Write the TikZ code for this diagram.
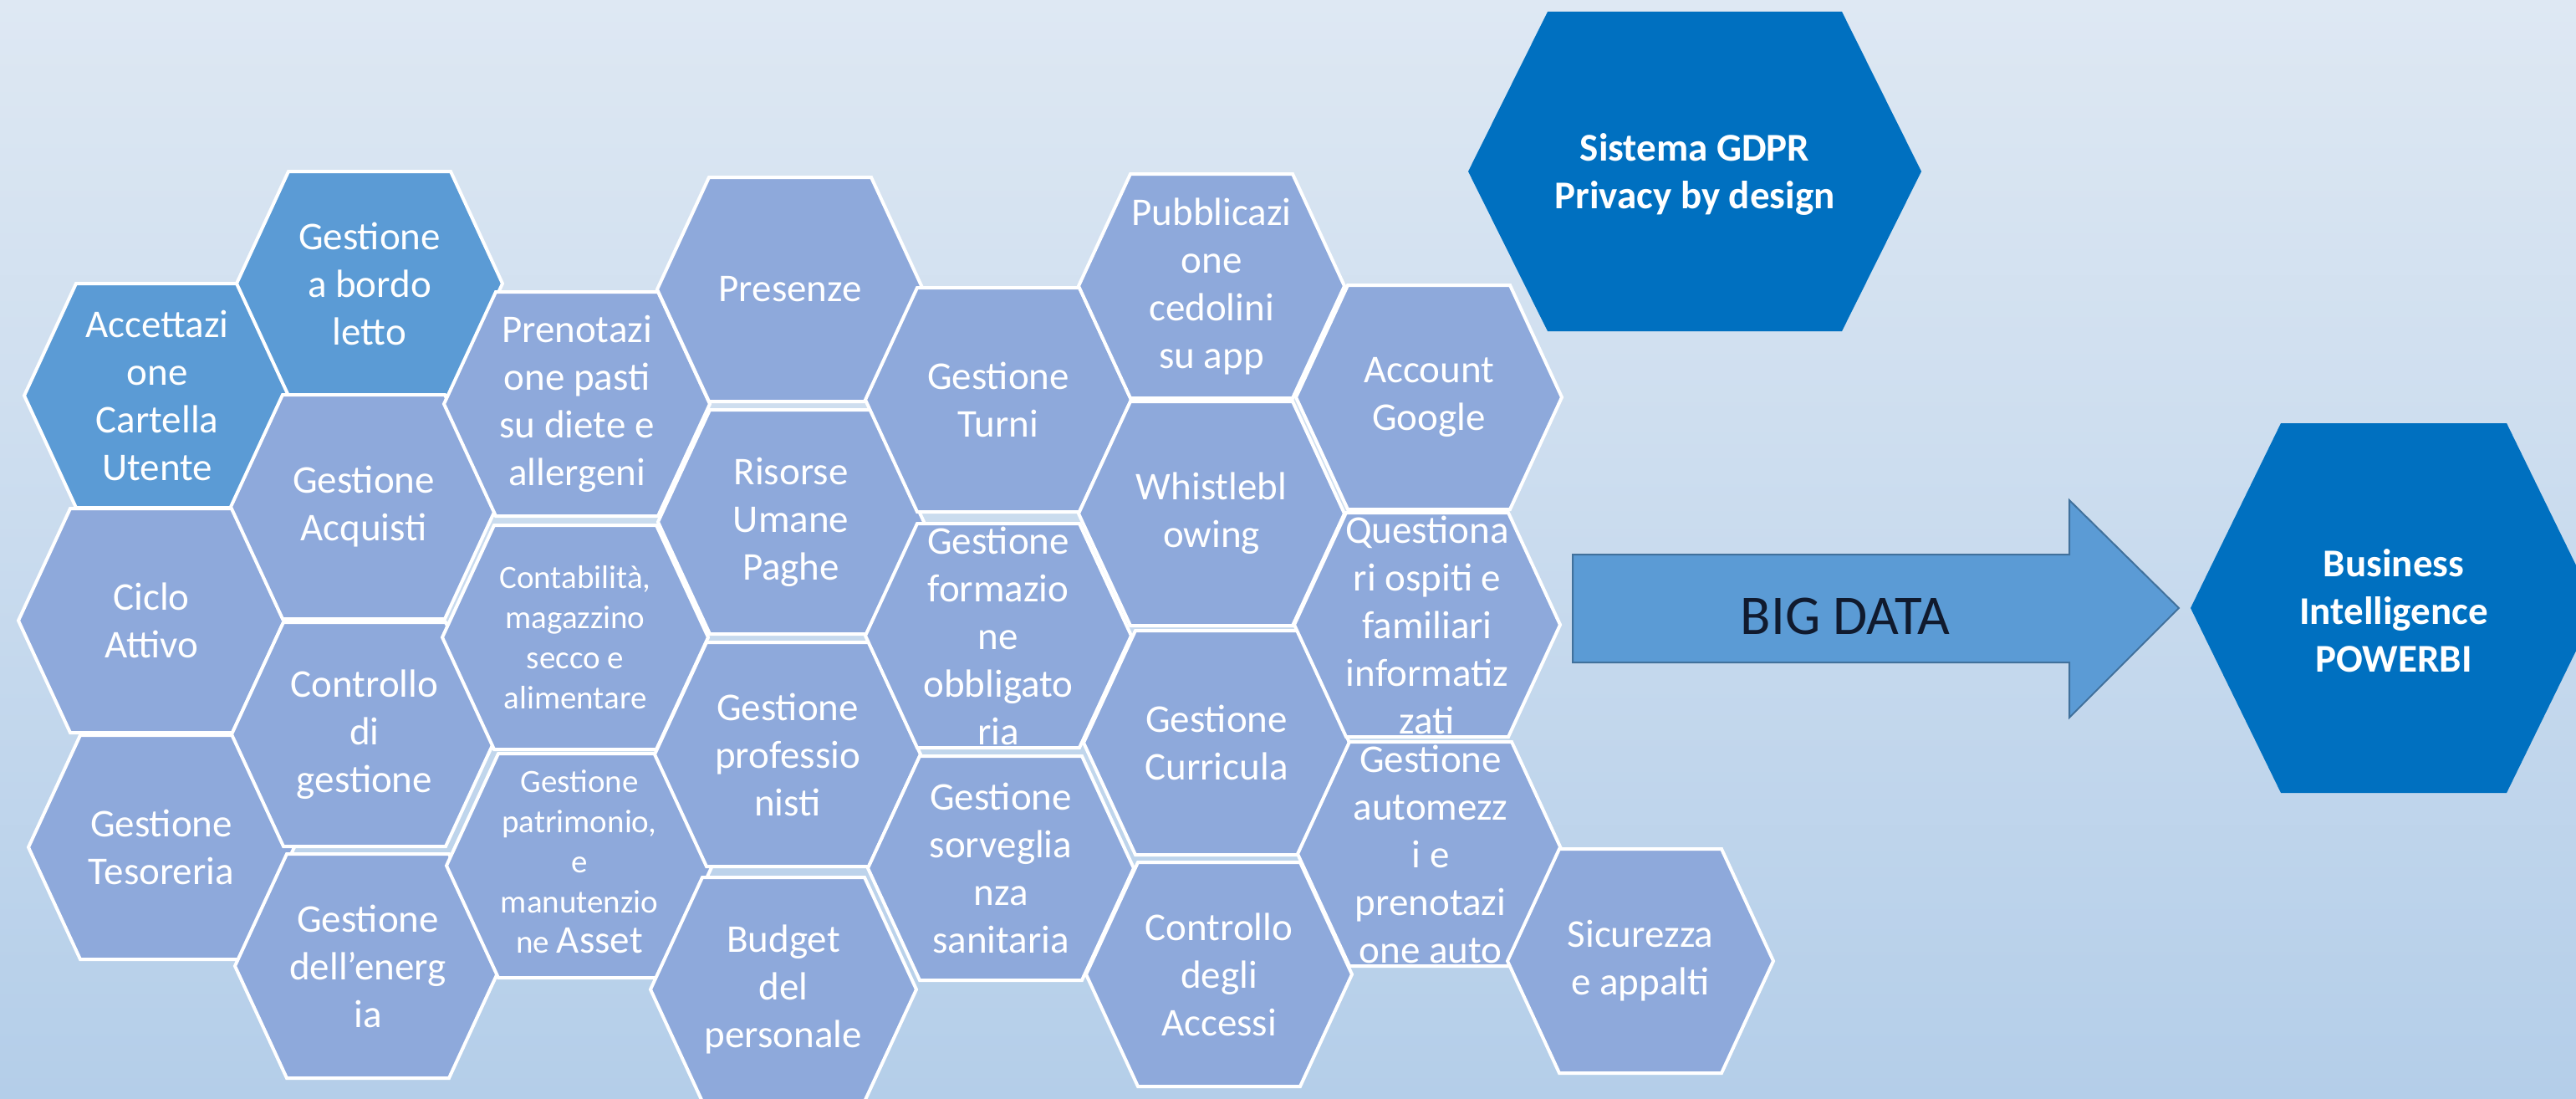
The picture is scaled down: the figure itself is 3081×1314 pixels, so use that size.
\documentclass[tikz,border=0pt]{standalone}
\usepackage{fontspec}
\setmainfont{Carlito}
\usetikzlibrary{calc}
\definecolor{hexl}{HTML}{8EA9DB}
\definecolor{hexm}{HTML}{5B9BD5}
\definecolor{hexd}{HTML}{0070C0}
\definecolor{bgtop}{HTML}{DEE8F3}
\definecolor{bgbot}{HTML}{B4CEE9}
\definecolor{arrowline}{HTML}{41719C}
\definecolor{navy}{HTML}{101A2E}
\tikzset{
  hexshape/.style={draw=white, line width=4, line join=miter},
  hexlight/.style={hexshape, fill=hexl},
  hexmid/.style={hexshape, fill=hexm},
  hexbig/.style={fill=hexd, draw=none},
  hextext/.style={text=white, align=center, inner sep=0pt, font=\fontsize{47}{57}\selectfont},
  hexsmall/.style={hextext, font=\fontsize{39}{48}\selectfont},
  bigtext/.style={text=white, align=center, inner sep=0pt, font=\fontsize{47}{57}\selectfont\bfseries},
  arrowbody/.style={fill=hexm, draw=arrowline, line width=2, line join=miter},
  arrowtext/.style={text=navy, inner sep=0pt, font=\fontsize{67}{80}\selectfont}
}
\newcommand{\hexcell}[4][hexlight]{%
  \path[#1] (#3) ++(-159,0) -- ++(62,-134) -- ++(194,0) -- ++(62,134) -- ++(-62,134) -- ++(-194,0) -- cycle;
  \node[hextext] (#2) at (#3) {#4};}
\begin{document}
\begin{tikzpicture}[x=1pt,y=-1pt]
\useasboundingbox (0,0) rectangle (3081,1314);
\shade[top color=bgtop, bottom color=bgbot] (0,0) rectangle (3081,1314);
\clip (0,0) rectangle (3081,1314);

% column 1
\hexcell[hexmid]{acc}{188,473}{Accettazi\\one\\Cartella\\Utente}
\hexcell{ciclo}{181,742}{Ciclo\\Attivo}
\hexcell{tes}{193,1013}{Gestione\\Tesoreria}
% column 2
\hexcell[hexmid]{letto}{442,339}{Gestione\\a bordo\\letto}
\hexcell{acq}{435,606}{Gestione\\Acquisti}
\hexcell{ctrl}{436,878}{Controllo\\di\\gestione}
\hexcell{energ}{440,1155}{Gestione\\dell’energ\\ia}
% column 3
\hexcell{pasti}{690,483}{Prenotazi\\one pasti\\su diete e\\allergeni}
\hexcell{conta}{688,762}{}
\node[hexsmall] (contat) at (conta) {Contabilità,\\magazzino\\secco e\\alimentare};
\hexcell{patr}{693,1035}{}
\node[hexsmall] (patrt) at (693,1030) {Gestione\\patrimonio,\\e\\manutenzio\\ne {\fontsize{47}{48}\selectfont Asset}};
% column 4
\hexcell{pres}{945,346}{Presenze}
\hexcell{risorse}{946,624}{Risorse\\Umane\\Paghe}
\hexcell{prof}{942,902}{Gestione\\professio\\nisti}
\hexcell{budget}{937,1183}{Budget\\del\\personale}
% column 5
\hexcell{turni}{1194,478}{Gestione\\Turni}
\hexcell{form}{1194,760}{Gestione\\formazio\\ne\\obbligato\\ria}
\hexcell{sorv}{1197,1038}{Gestione\\sorveglia\\nza\\sanitaria}
% column 6
\hexcell{pubbl}{1449,342}{Pubblicazi\\one\\cedolini\\su app}
\hexcell{whistle}{1449,614}{Whistlebl\\owing}
\hexcell{curr}{1455,888}{Gestione\\Curricula}
\hexcell{accessi}{1458,1165}{Controllo\\degli\\Accessi}
% column 7
\hexcell{account}{1709,475}{Account\\Google}
\hexcell{quest}{1707,747}{Questiona\\ri ospiti e\\familiari\\informatiz\\zati}
\hexcell{auto}{1711,1021}{Gestione\\automezz\\i e\\prenotazi\\one auto}
% column 8
\hexcell{sicur}{1962,1149}{Sicurezza\\e appalti}

% GDPR
\path[hexbig] (2027,205) ++(-271,0) -- ++(95,-191) -- ++(352,0) -- ++(95,191) -- ++(-95,191) -- ++(-352,0) -- cycle;
\node[bigtext] (gdpr) at (2027,208) {Sistema GDPR\\Privacy by design};

% Business Intelligence
\path[hexbig] (2863,727) ++(-243,0) -- ++(108,-221) -- ++(270,0) -- ++(108,221) -- ++(-108,221) -- ++(-270,0) -- cycle;
\node[bigtext] (bi) at (2863,730) {Business\\Intelligence\\POWERBI};

% BIG DATA arrow
\path[arrowbody] (1881,663) -- (2475,663) -- (2475,598) -- (2606,727) -- (2475,858) -- (2475,792) -- (1881,792) -- cycle;
\node[arrowtext] (bigdata) at (2207,737) {BIG DATA};
\end{tikzpicture}
\end{document}
